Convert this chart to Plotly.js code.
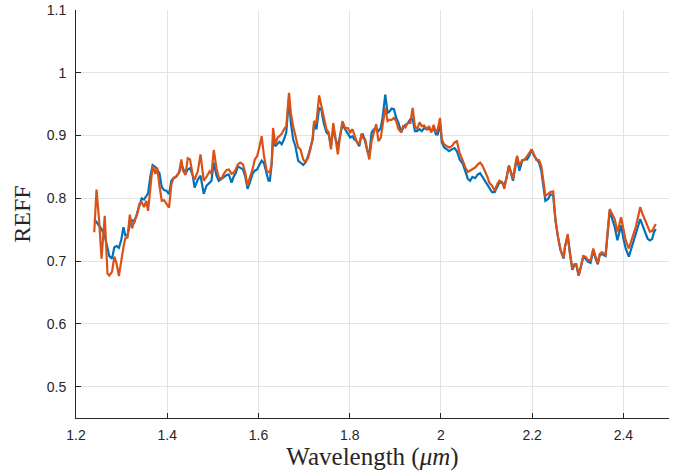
<!DOCTYPE html>
<html>
<head>
<meta charset="utf-8">
<script src="https://cdn.plot.ly/plotly-3.0.1.min.js"></script>
<style>html,body{margin:0;padding:0;background:#fff;}#chart{width:675px;height:474px;}</style>
</head>
<body>
<div id="chart"></div>
<script>
const wavelength = [
1.240,1.245,1.251,1.256,1.263,1.269,1.273,1.279,1.284,1.289,1.294,1.299,1.304,1.308,1.313,1.318,1.323,1.328,1.333,1.339,
1.344,1.349,1.354,1.358,1.363,1.368,1.374,1.378,1.383,1.388,1.393,1.398,1.404,
1.409,1.414,1.419,1.426,1.431,1.434,1.440,1.445,1.450,1.456,1.460,1.467,1.473,1.480,1.486,1.493,1.497,1.502,1.508,1.513,
1.519,1.524,1.530,1.535,1.541,1.546,1.550,1.555,1.560,1.566,1.571,1.576,1.581,1.587,1.592,1.597,1.601,1.607,1.612,1.618,1.622,
1.625,1.629,1.632,1.637,1.642,1.646,1.651,1.656,1.661,1.667,1.671,1.676,1.681,1.687,1.692,1.698,1.703,1.709,1.714,1.719,
1.722,1.727,1.733,1.738,1.743,1.749,1.754,1.759,1.764,1.769,1.774,1.779,1.784,1.790,1.796,1.801,1.806,1.810,1.815,1.821,1.826,
1.829,1.834,1.839,1.843,1.848,1.853,1.858,1.863,1.868,1.872,1.878,1.883,1.887,1.892,1.897,1.902,1.907,1.913,1.917,1.922,
1.927,1.933,1.938,1.943,1.948,1.953,1.958,1.963,1.969,1.974,1.979,1.984,1.989,1.993,1.998,2.002,2.007,2.013,2.018,2.024,
2.030,2.035,2.041,
2.048,2.053,2.059,2.064,2.069,2.075,2.081,2.086,2.091,2.096,2.102,2.106,2.112,2.118,2.123,2.128,2.134,2.139,2.144,2.149,
2.154,2.158,2.163,2.167,2.172,2.178,2.183,2.189,2.194,2.199,2.204,2.209,2.215,2.220,2.224,2.229,2.235,2.240,2.246,2.251,
2.256,2.262,2.269,2.272,2.278,2.282,2.288,2.293,2.297,2.302,2.307,2.312,2.317,2.322,2.328,2.334,2.339,2.344,2.348,2.353,
2.358,2.361,2.370,2.376,2.381,2.387,2.395,2.400,2.405,2.412,2.419,2.427,2.432,2.437,2.442,2.448,2.453,2.458,2.463,2.467,2.471
];

const reffBlue = [
0.767,0.762,0.755,0.751,0.740,0.720,0.708,0.704,0.722,0.724,0.721,0.733,0.754,0.741,0.741,0.758,0.765,0.762,0.775,0.790,
0.800,0.798,0.804,0.808,0.835,0.853,0.850,0.846,0.840,0.818,0.813,0.812,0.807,
0.828,0.832,0.834,0.841,0.854,0.848,0.839,0.846,0.848,0.836,0.817,0.830,0.836,0.807,0.820,0.825,0.828,0.857,0.836,0.828,
0.831,0.833,0.837,0.838,0.825,0.835,0.840,0.851,0.849,0.846,0.835,0.815,0.825,0.839,0.844,0.846,0.852,0.860,0.856,0.836,0.828,
0.828,0.855,0.895,0.883,0.887,0.890,0.886,0.894,0.905,0.960,0.920,0.894,0.883,0.860,0.857,0.853,0.857,0.868,0.881,0.894,
0.920,0.910,0.944,0.941,0.920,0.905,0.902,0.883,0.912,0.894,0.883,0.899,0.917,0.910,0.902,0.897,0.899,0.894,0.891,0.883,0.902,
0.902,0.890,0.875,0.870,0.905,0.910,0.912,0.907,0.912,0.928,0.965,0.936,0.938,0.943,0.942,0.928,0.920,0.905,0.912,0.917,
0.919,0.926,0.927,0.907,0.907,0.910,0.907,0.912,0.910,0.911,0.907,0.912,0.902,0.902,0.920,0.889,0.881,0.878,0.875,0.878,
0.880,0.875,0.862,
0.855,0.843,0.831,0.828,0.834,0.832,0.838,0.840,0.834,0.828,0.820,0.815,0.810,0.810,0.817,0.825,0.825,0.820,0.833,0.852,
0.839,0.828,0.849,0.865,0.844,0.859,0.862,0.862,0.868,0.878,0.868,0.862,0.857,0.844,0.823,0.796,0.799,0.806,0.806,0.765,
0.741,0.718,0.704,0.723,0.740,0.715,0.686,0.694,0.693,0.677,0.694,0.707,0.704,0.699,0.697,0.717,0.704,0.695,0.709,0.712,
0.709,0.708,0.780,0.767,0.754,0.733,0.757,0.736,0.720,0.707,0.725,0.744,0.755,0.767,0.757,0.744,0.736,0.733,0.735,0.746,0.751
];

const reffOrange = [
0.746,0.814,0.762,0.704,0.772,0.680,0.677,0.683,0.707,0.696,0.676,0.701,0.722,0.736,0.738,0.774,0.752,0.765,0.772,0.791,
0.794,0.786,0.796,0.780,0.815,0.852,0.839,0.849,0.820,0.796,0.797,0.791,0.785,
0.822,0.833,0.834,0.841,0.862,0.845,0.837,0.864,0.862,0.836,0.830,0.843,0.870,0.828,0.834,0.843,0.839,0.877,0.848,0.833,
0.831,0.839,0.845,0.846,0.839,0.841,0.846,0.854,0.857,0.854,0.841,0.820,0.833,0.846,0.862,0.867,0.878,0.899,0.868,0.844,0.842,
0.841,0.856,0.912,0.886,0.897,0.899,0.903,0.910,0.915,0.968,0.936,0.915,0.900,0.881,0.878,0.862,0.857,0.865,0.878,0.897,
0.923,0.920,0.964,0.947,0.925,0.910,0.905,0.878,0.920,0.894,0.870,0.899,0.923,0.912,0.912,0.905,0.910,0.902,0.891,0.886,0.902,
0.896,0.894,0.875,0.862,0.891,0.907,0.918,0.891,0.896,0.915,0.944,0.923,0.925,0.925,0.928,0.923,0.910,0.905,0.915,0.913,
0.920,0.920,0.944,0.915,0.910,0.921,0.915,0.916,0.910,0.915,0.905,0.917,0.905,0.910,0.928,0.894,0.886,0.883,0.881,0.883,
0.889,0.891,0.872,
0.860,0.850,0.842,0.844,0.846,0.849,0.854,0.857,0.852,0.844,0.834,0.825,0.820,0.812,0.822,0.828,0.826,0.815,0.831,0.852,
0.841,0.831,0.854,0.868,0.852,0.861,0.861,0.868,0.873,0.878,0.870,0.861,0.861,0.852,0.831,0.804,0.807,0.810,0.811,0.767,
0.741,0.718,0.705,0.723,0.743,0.715,0.688,0.695,0.695,0.677,0.691,0.708,0.707,0.702,0.701,0.720,0.707,0.697,0.711,0.714,
0.711,0.710,0.783,0.775,0.767,0.746,0.770,0.751,0.733,0.720,0.736,0.754,0.770,0.786,0.775,0.765,0.754,0.747,0.748,0.754,0.759
];

const xTicks = [1.2, 1.4, 1.6, 1.8, 2, 2.2, 2.4];
const yTicks = [0.5, 0.6, 0.7, 0.8, 0.9, 1, 1.1];

const traces = [
  {x: wavelength, y: reffBlue, type: 'scatter', mode: 'lines', line: {color: '#0072BD', width: 2.2}, showlegend: false, hoverinfo: 'skip'},
  {x: wavelength, y: reffOrange, type: 'scatter', mode: 'lines', line: {color: '#D95319', width: 2.2}, showlegend: false, hoverinfo: 'skip'}
];

const axisCommon = {
  showline: true, linecolor: '#262626', linewidth: 1, mirror: false,
  ticks: 'inside', ticklen: 5, tickwidth: 1, tickcolor: '#262626',
  showgrid: true, gridcolor: '#e3e3e3', gridwidth: 1, zeroline: false,
  tickfont: {family: 'Liberation Sans, Arial, sans-serif', size: 14, color: '#262626'}
};

const layout = {
  width: 675, height: 474,
  margin: {l: 76, r: 6, t: 10, b: 56},
  paper_bgcolor: '#ffffff', plot_bgcolor: '#ffffff',
  xaxis: Object.assign({}, axisCommon, {
    range: [1.2, 2.5], tickvals: xTicks, ticktext: xTicks.map(String),
    ticklabelstandoff: 4,
    title: {text: 'Wavelength (<i>μm</i>)', font: {family: 'Liberation Serif, Times New Roman, serif', size: 25, color: '#262626'}, standoff: 5}
  }),
  yaxis: Object.assign({}, axisCommon, {
    range: [0.45, 1.1], tickvals: yTicks, ticktext: yTicks.map(String),
    ticklabelstandoff: 6,
    title: {text: 'REFF', font: {family: 'Liberation Serif, Times New Roman, serif', size: 24, color: '#262626'}, standoff: 9}
  })
};

Plotly.newPlot('chart', traces, layout, {staticPlot: true, displayModeBar: false});
</script>
</body>
</html>
